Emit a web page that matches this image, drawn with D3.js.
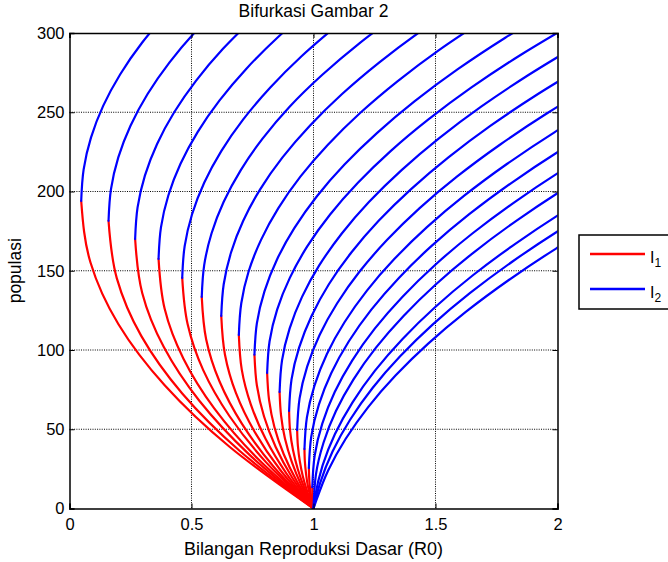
<!DOCTYPE html>
<html><head><meta charset="utf-8">
<script src="https://cdn.jsdelivr.net/npm/d3@7"></script>
<style>
body{margin:0;background:#fff}
svg{display:block}
text{font-family:"Liberation Sans",Arial,Helvetica,sans-serif;fill:#000}
</style>
</head><body>
<svg id="chart" width="668" height="562"></svg>
<script>
const titleText = "Bifurkasi Gambar 2";
const xLabelText = "Bilangan Reproduksi Dasar (R0)";
const yLabelText = "populasi";
const xTicks = [0, 0.5, 1, 1.5, 2];
const yTicks = [0, 50, 100, 150, 200, 250, 300];
const legendSubs = ["1", "2"];

// I1 branch (red): [R0, I] pairs from (1,0) up to the turning point
const redBranches = [
  [[1,0],[0.657,38.8],[0.391,77.6],[0.200,116.4],[0.086,155.2],[0.048,194]],
  [[1,0],[0.698,36.3],[0.462,72.6],[0.294,108.9],[0.194,145.2],[0.160,181.5]],
  [[1,0],[0.737,34],[0.532,68],[0.386,102],[0.298,136],[0.269,170]],
  [[1,0],[0.771,31.5],[0.594,63],[0.467,94.5],[0.390,126],[0.365,157.5]],
  [[1,0],[0.806,29.1],[0.656,58.2],[0.548,87.3],[0.484,116.4],[0.462,145.5]],
  [[1,0],[0.835,26.7],[0.707,53.4],[0.615,80.1],[0.560,106.8],[0.542,133.5]],
  [[1,0],[0.864,24.3],[0.758,48.6],[0.682,72.9],[0.637,97.2],[0.622,121.5]],
  [[1,0],[0.890,21.9],[0.804,43.8],[0.743,65.7],[0.706,87.6],[0.694,109.5]],
  [[1,0],[0.913,19.4],[0.845,38.8],[0.797,58.2],[0.768,77.6],[0.758,97]],
  [[1,0],[0.932,17.1],[0.878,34.2],[0.840,51.3],[0.818,68.4],[0.810,85.5]],
  [[1,0],[0.950,14.7],[0.911,29.4],[0.883,44.1],[0.867,58.8],[0.861,73.5]],
  [[1,0],[0.964,12.3],[0.936,24.6],[0.916,36.9],[0.904,49.2],[0.900,61.5]],
  [[1,0],[0.976,9.9],[0.957,19.8],[0.944,29.7],[0.936,39.6],[0.933,49.5]],
  [[1,0],[0.987,7.5],[0.976,15],[0.969,22.5],[0.9645,30],[0.963,37.5]],
  [[1,0],[0.993,5.1],[0.988,10.2],[0.984,15.3],[0.982,20.4],[0.981,25.5]],
  [[1,0],[0.997,4.5],[0.9956,9],[0.995,13.5]]
];

// I2 branch (blue): [R0, I] pairs from the turning point upward
const blueBranches = [
  [[0.048,194],[0.058,214],[0.088,234],[0.138,254],[0.208,274],[0.298,294],[0.408,314]],
  [[0.160,181.5],[0.170,201.5],[0.200,221.5],[0.250,241.5],[0.320,261.5],[0.410,281.5],[0.520,301.5],[0.650,321.5]],
  [[0.269,170],[0.279,190],[0.309,210],[0.359,230],[0.429,250],[0.519,270],[0.629,290],[0.759,310]],
  [[0.365,157.5],[0.375,177.5],[0.405,197.5],[0.455,217.5],[0.525,237.5],[0.615,257.5],[0.725,277.5],[0.855,297.5],[1.005,317.5]],
  [[0.462,145.5],[0.472,165.5],[0.502,185.5],[0.552,205.5],[0.622,225.5],[0.712,245.5],[0.822,265.5],[0.952,285.5],[1.102,305.5]],
  [[0.542,133.5],[0.552,153.5],[0.582,173.5],[0.632,193.5],[0.702,213.5],[0.792,233.5],[0.902,253.5],[1.035,273.5],[1.188,293.5],[1.362,313.5]],
  [[0.622,121.5],[0.632,141.5],[0.662,161.5],[0.712,181.5],[0.782,201.5],[0.873,221.5],[0.985,241.5],[1.117,261.5],[1.270,281.5],[1.443,301.5],[1.636,321.5]],
  [[0.694,109.5],[0.704,129.5],[0.734,149.5],[0.785,169.5],[0.856,189.5],[0.947,209.5],[1.059,229.5],[1.191,249.5],[1.344,269.5],[1.517,289.5],[1.711,309.5]],
  [[0.758,97],[0.768,117],[0.799,137],[0.850,157],[0.922,177],[1.014,197],[1.127,217],[1.261,237],[1.415,257],[1.590,277],[1.786,297],[2.002,317]],
  [[0.810,85.5],[0.820,105.5],[0.851,125.5],[0.903,145.5],[0.975,165.5],[1.068,185.5],[1.182,205.5],[1.316,225.5],[1.471,245.5],[1.646,265.5],[1.842,285.5],[2.059,305.5]],
  [[0.861,73.5],[0.871,93.5],[0.902,113.5],[0.953,133.5],[1.024,153.5],[1.116,173.5],[1.228,193.5],[1.361,213.5],[1.514,233.5],[1.687,253.5],[1.881,273.5],[2.095,293.5]],
  [[0.900,61.5],[0.910,81.5],[0.941,101.5],[0.992,121.5],[1.063,141.5],[1.155,161.5],[1.267,181.5],[1.400,201.5],[1.553,221.5],[1.726,241.5],[1.920,261.5],[2.134,281.5]],
  [[0.933,49.5],[0.943,69.5],[0.974,89.5],[1.025,109.5],[1.097,129.5],[1.189,149.5],[1.302,169.5],[1.435,189.5],[1.589,209.5],[1.764,229.5],[1.959,249.5],[2.176,269.5]],
  [[0.963,37.5],[0.973,57.5],[1.004,77.5],[1.055,97.5],[1.127,117.5],[1.219,137.5],[1.332,157.5],[1.465,177.5],[1.619,197.5],[1.794,217.5],[1.989,237.5],[2.206,257.5]],
  [[0.981,25.5],[0.991,45.5],[1.022,65.5],[1.073,85.5],[1.145,105.5],[1.237,125.5],[1.350,145.5],[1.483,165.5],[1.637,185.5],[1.812,205.5],[2.007,225.5],[2.224,245.5]],
  [[0.995,13.5],[1.005,33.5],[1.036,53.5],[1.087,73.5],[1.159,93.5],[1.251,113.5],[1.364,133.5],[1.497,153.5],[1.651,173.5],[1.826,193.5],[2.021,213.5],[2.238,233.5]],
  [[1,0],[1.010,21.5],[1.041,41.5],[1.092,61.5],[1.164,81.5],[1.256,101.5],[1.369,121.5],[1.502,141.5],[1.656,161.5],[1.831,181.5],[2.026,201.5],[2.243,221.5]],
  [[1,0],[1.006,7],[1.037,27],[1.088,47],[1.160,67],[1.252,87],[1.365,107],[1.498,127],[1.652,147],[1.827,167],[2.022,187],[2.239,207]],
  [[1,0],[1.027,16],[1.078,36],[1.150,56],[1.242,76],[1.355,96],[1.488,116],[1.642,136],[1.817,156],[2.012,176],[2.229,196]],
  [[1,0],[1.009,4],[1.060,24],[1.132,44],[1.224,64],[1.337,84],[1.470,104],[1.624,124],[1.799,144],[1.994,164],[2.211,184]]
];

const svg = d3.select("#chart");
const L = 69.5, R = 557.5, T = 33, B = 508.5;
const x = d3.scaleLinear().domain([0, 2]).range([L, R]);
const y = d3.scaleLinear().domain([0, 300]).range([B, T]);

svg.append("rect").attr("width", 668).attr("height", 562).attr("fill", "#fff");

svg.append("defs").append("clipPath").attr("id", "clip")
  .append("rect").attr("x", L).attr("y", T).attr("width", R - L).attr("height", B - T);

// grid
const grid = svg.append("g").attr("stroke", "#000").attr("stroke-width", 1)
  .attr("stroke-dasharray", "1,1.3").attr("fill", "none");
xTicks.slice(1, -1).forEach(v => grid.append("line")
  .attr("x1", x(v)).attr("x2", x(v)).attr("y1", T).attr("y2", B));
yTicks.slice(1, -1).forEach(v => grid.append("line")
  .attr("x1", L).attr("x2", R).attr("y1", y(v)).attr("y2", y(v)));

// curves
const line = d3.line().x(d => x(d[0])).y(d => y(d[1])).curve(d3.curveMonotoneY);
const plot = svg.append("g").attr("clip-path", "url(#clip)").attr("fill", "none")
  .attr("stroke-width", 2.2).attr("stroke-linejoin", "round").attr("stroke-linecap", "round");
blueBranches.forEach((b, i) => {
  if (redBranches[i]) plot.append("path").attr("d", line(redBranches[i])).attr("stroke", "#ff0000");
  plot.append("path").attr("d", line(b)).attr("stroke", "#0000ff");
});

// axes box with inward ticks
const ax = svg.append("g");
const xAxisB = d3.axisBottom(x).tickValues(xTicks).tickSize(-5).tickPadding(10).tickFormat(d3.format("~g"));
const xAxisT = d3.axisTop(x).tickValues(xTicks).tickSize(-5).tickFormat("");
const yAxisL = d3.axisLeft(y).tickValues(yTicks).tickSize(-5).tickPadding(5);
const yAxisR = d3.axisRight(y).tickValues(yTicks).tickSize(-5).tickFormat("");
ax.append("g").attr("transform", `translate(0,${B})`).call(xAxisB);
ax.append("g").attr("transform", `translate(0,${T})`).call(xAxisT);
ax.append("g").attr("transform", `translate(${L},0)`).call(yAxisL);
ax.append("g").attr("transform", `translate(${R},0)`).call(yAxisR);
ax.selectAll(".domain").attr("stroke", "#000").attr("stroke-width", 1.5);
ax.selectAll(".tick line").attr("stroke", "#000").attr("stroke-width", 1);
ax.selectAll("text").style("font-size", "16.5px").style("font-family", '"Liberation Sans",Arial,sans-serif').attr("fill", "#000");

// labels
svg.append("text").attr("x", (L + R) / 2).attr("y", 17).attr("text-anchor", "middle")
  .style("font-size", "17.5px").text(titleText);
svg.append("text").attr("x", (L + R) / 2).attr("y", 555).attr("text-anchor", "middle")
  .style("font-size", "18px").text(xLabelText);
svg.append("text").attr("transform", `translate(21,${(T + B) / 2}) rotate(-90)`)
  .attr("text-anchor", "middle").style("font-size", "17.5px").text(yLabelText);

// legend
const lg = svg.append("g");
lg.append("rect").attr("x", 579).attr("y", 235).attr("width", 110).attr("height", 74)
  .attr("fill", "#fff").attr("stroke", "#000").attr("stroke-width", 1.5);
const legColors = ["#ff0000", "#0000ff"];
const legY = [254, 289];
legendSubs.forEach((s, i) => {
  lg.append("line").attr("x1", 590).attr("x2", 645).attr("y1", legY[i]).attr("y2", legY[i])
    .attr("stroke", legColors[i]).attr("stroke-width", 2.3);
  const t = lg.append("text").attr("x", 650).attr("y", legY[i] + 9).style("font-size", "16px");
  t.append("tspan").text("I");
  t.append("tspan").attr("dy", 4).style("font-size", "12px").text(s);
});
</script>
</body></html>
